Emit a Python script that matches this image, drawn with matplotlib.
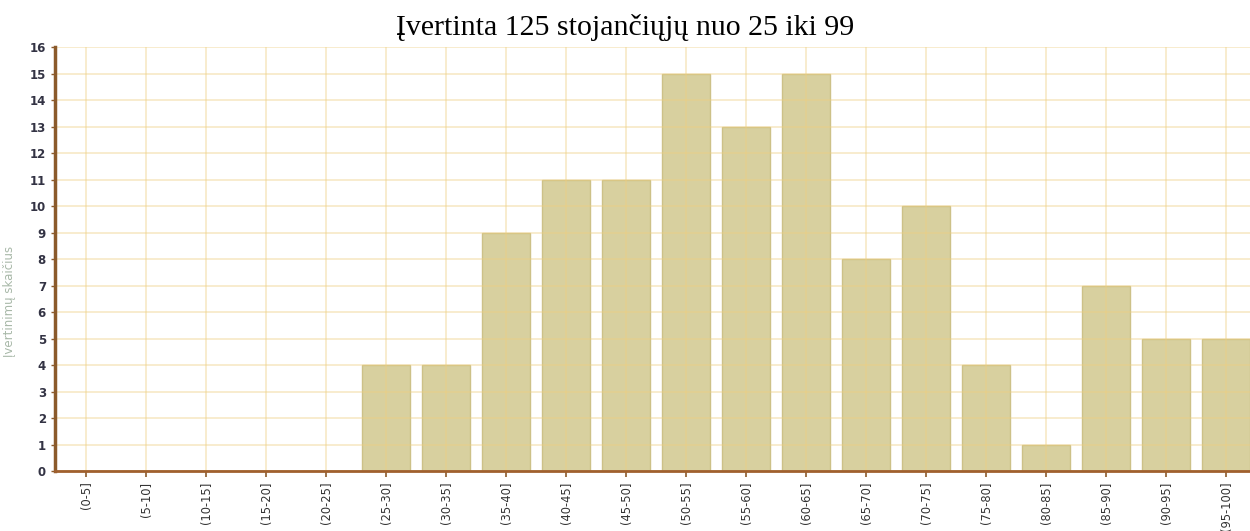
import numpy as np
import matplotlib.pyplot as plt

categories = ['(0-5]', '(5-10]', '(10-15]', '(15-20]', '(20-25]', '(25-30]', '(30-35]',
              '(35-40]', '(40-45]', '(45-50]', '(50-55]', '(55-60]', '(60-65]', '(65-70]',
              '(70-75]', '(75-80]', '(80-85]', '(85-90]', '(90-95]', '(95-100]']
counts = [0, 0, 0, 0, 0, 4, 4, 9, 11, 11, 15, 13, 15, 8, 10, 4, 1, 7, 5, 5]

fig = plt.figure(figsize=(12.5, 5.31), dpi=100)
ax = fig.add_axes([0.044, 0.113, 0.956, 0.798])

x = np.arange(len(categories))
ax.bar(x, counts, width=0.8, color='#d8d09f', edgecolor='#cdc188', linewidth=1.0, zorder=2)

ax.set_xlim(-0.52, 19.4)
ax.set_ylim(0, 16)
ax.set_yticks(range(0, 17))
ax.set_xticks(x)
ax.set_xticklabels(categories, rotation=90, fontsize=8.3, color='#333333')
ax.tick_params(axis='y', labelsize=8.5, colors='#8b5a2b', labelcolor='#333344', length=3, width=1)
ax.tick_params(axis='x', colors='#8b5a2b', labelcolor='#333333', length=4, width=1.2)
for lbl in ax.get_yticklabels():
    lbl.set_fontweight('bold')

# grid sits on top of the bars, faint
ax.grid(True, color='#efcf80', linewidth=1.2, alpha=0.45, zorder=3)
ax.set_axisbelow(False)

for s in ['top', 'right']:
    ax.spines[s].set_visible(False)
ax.spines['left'].set_color('#8b5a2b')
ax.spines['left'].set_linewidth(2.5)
ax.spines['bottom'].set_color('#a0602e')
ax.spines['bottom'].set_linewidth(2)
ax.spines['left'].set_zorder(4)
ax.spines['bottom'].set_zorder(4)

ax.set_ylabel('Įvertinimų skaičius', fontsize=8.5, color='#a8b8a8')
ax.yaxis.set_label_coords(-0.033, 0.40)

fig.suptitle('Įvertinta 125 stojančiųjų nuo 25 iki 99', family='Liberation Serif',
             fontsize=21.5, y=0.974)

fig.savefig('out.png')
